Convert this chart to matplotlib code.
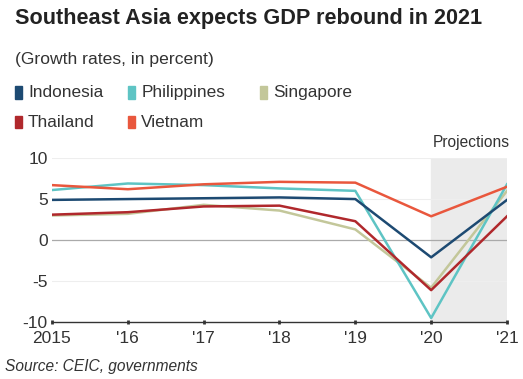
import matplotlib.pyplot as plt
from matplotlib.patches import Rectangle

plt.rcParams['font.family'] = ['Liberation Sans', 'DejaVu Sans']

years = [2015, 2016, 2017, 2018, 2019, 2020, 2021]
year_labels = ['2015', "'16", "'17", "'18", "'19", "'20", "'21"]

indonesia = [4.9, 5.0, 5.1, 5.2, 5.0, -2.1, 4.9]
philippines = [6.1, 6.9, 6.7, 6.3, 6.0, -9.5, 6.8]
singapore = [3.0, 3.2, 4.3, 3.6, 1.3, -5.8, 6.0]
thailand = [3.1, 3.4, 4.1, 4.2, 2.3, -6.1, 2.9]
vietnam = [6.7, 6.2, 6.8, 7.1, 7.0, 2.9, 6.5]

names = ['Indonesia', 'Philippines', 'Singapore', 'Thailand', 'Vietnam']
series = [indonesia, philippines, singapore, thailand, vietnam]
colors = ['#1d4a72', '#5ec4c4', '#c3c79a', '#b0282c', '#e9573d']
draw_order = [2, 1, 0, 3, 4]

fig = plt.figure(figsize=(5.23, 3.79), dpi=100)
ax = fig.add_axes([0.0994, 0.150, 0.8700, 0.433])

ax.axvspan(2020, 2021, color='#ebebeb', zorder=0)
for y in [10, 5, -5]:
    ax.axhline(y, color='#eeeeee', lw=0.8, zorder=1)
ax.axhline(0, color='#aaaaaa', lw=0.9, zorder=1)

for i in draw_order:
    ax.plot(years, series[i], color=colors[i], lw=1.8, zorder=3)

ax.set_xlim(2015, 2021)
ax.set_ylim(-10, 10)
ax.set_xticks(years)
ax.set_xticklabels(year_labels)
ax.set_yticks([-10, -5, 0, 5, 10])
ax.set_yticklabels(['-10', '-5', '0', '5', '10'])
for s in ['top', 'right', 'left']:
    ax.spines[s].set_visible(False)
ax.spines['bottom'].set_color('#333333')
ax.spines['bottom'].set_linewidth(1.0)
ax.tick_params(axis='x', length=3, width=2, color='#333333', direction='inout',
               labelsize=12.5, pad=5, labelcolor='#333333')
ax.tick_params(axis='y', length=0, labelsize=12.5, pad=3, labelcolor='#333333')
ax.set_facecolor('none')

fig.text(0.029, 0.952, 'Southeast Asia expects GDP rebound in 2021',
         fontsize=15.6, fontweight='bold', color='#222222', va='center')
fig.text(0.029, 0.842, '(Growth rates, in percent)', fontsize=12.6,
         color='#333333', va='center')

leg_pos = [(0.0287, 0.755), (0.245, 0.755), (0.497, 0.755),
           (0.0287, 0.678), (0.245, 0.678)]
for (x, y), name, c in zip(leg_pos, names, colors):
    fig.patches.append(Rectangle((x, y - 0.017), 0.0134, 0.034,
                                 transform=fig.transFigure, color=c))
    fig.text(x + 0.025, y, name, fontsize=12.4, color='#333333', va='center')

fig.text(0.975, 0.623, 'Projections', fontsize=11.2, color='#333333',
         ha='right', va='center')
fig.text(0.01, 0.034, 'Source: CEIC, governments', fontsize=11.2,
         style='italic', color='#333333', va='center')

fig.savefig('out.png', dpi=100)
